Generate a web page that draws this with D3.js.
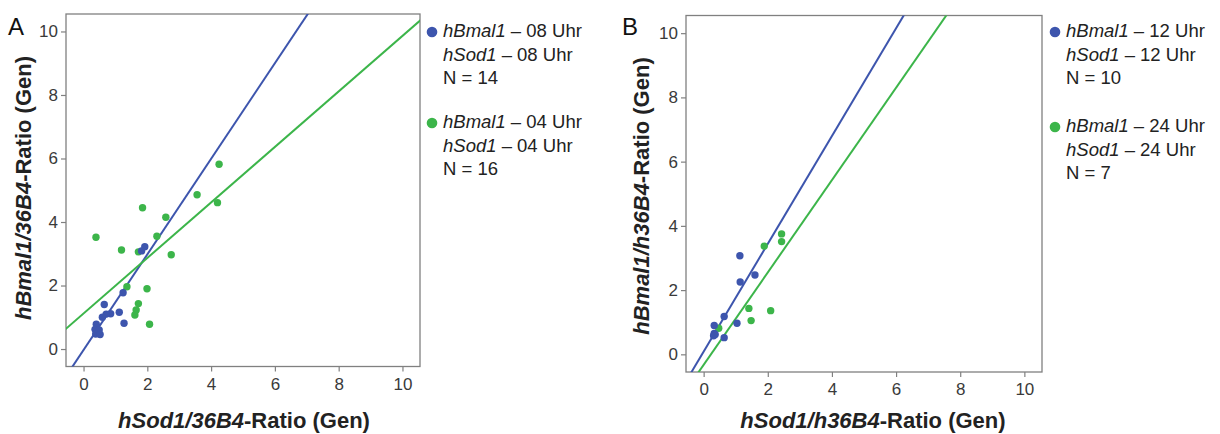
<!DOCTYPE html>
<html>
<head>
<meta charset="utf-8">
<script src="https://cdn.jsdelivr.net/npm/d3@7"></script>
<style>
  body { margin: 0; background: #fff; }
  svg { display: block; font-family: "Liberation Sans", Arial, sans-serif; }
</style>
</head>
<body>
<svg id="chart" width="1220" height="434"></svg>
<script>
// ---------------- data ----------------
const tickValues = [0, 2, 4, 6, 8, 10];

// Panel A
const aBlueX = [1.92, 1.82, 1.24, 0.65, 1.12, 0.85, 0.71, 0.59, 1.27, 0.40, 0.36, 0.49, 0.38, 0.52];
const aBlueY = [3.22, 3.09, 1.77, 1.40, 1.16, 1.11, 1.10, 1.00, 0.81, 0.78, 0.62, 0.60, 0.47, 0.46];
const aGreenX = [4.25, 3.56, 4.20, 1.85, 2.58, 0.39, 2.30, 1.19, 1.72, 2.75, 1.36, 1.99, 1.72, 1.65, 1.61, 2.07];
const aGreenY = [5.82, 4.86, 4.61, 4.45, 4.15, 3.52, 3.55, 3.12, 3.06, 2.97, 1.96, 1.90, 1.43, 1.23, 1.07, 0.78];
const aFitSlope = [1.505, 0.874];       // blue, green
const aFitIntercept = [-0.03, 1.12];

// Panel B
const bBlueX = [1.13, 1.60, 1.14, 0.64, 0.33, 1.04, 0.33, 0.31, 0.64, 0.36];
const bBlueY = [3.07, 2.47, 2.25, 1.18, 0.90, 0.97, 0.65, 0.58, 0.52, 0.62];
const bGreenX = [2.43, 2.43, 1.89, 1.41, 2.09, 1.48, 0.47];
const bGreenY = [3.75, 3.51, 3.37, 1.43, 1.36, 1.05, 0.81];
const bFitSlope = [1.678, 1.438];
const bFitIntercept = [0.084, -0.327];

const legendA = [
  { gene1: "hBmal1", gene2: "hSod1", time: "08 Uhr", n: "N = 14" },
  { gene1: "hBmal1", gene2: "hSod1", time: "04 Uhr", n: "N = 16" }
];
const legendB = [
  { gene1: "hBmal1", gene2: "hSod1", time: "12 Uhr", n: "N = 10" },
  { gene1: "hBmal1", gene2: "hSod1", time: "24 Uhr", n: "N = 7" }
];

// ---------------- styles ----------------
const BLUE = "#3d55ad";
const GREEN = "#3cb54a";
const FRAME = "#808080";
const TEXT = "#222";
const domain = [-0.55, 10.55];

const svg = d3.select("#chart");

function panel(opt) {
  const g = svg.append("g");
  const x = d3.scaleLinear().domain(domain).range([opt.left, opt.right]);
  const y = d3.scaleLinear().domain(domain).range([opt.bottom, opt.top]);

  const clipId = "clip" + opt.letter;
  svg.append("defs").append("clipPath").attr("id", clipId)
    .append("rect").attr("x", opt.left).attr("y", opt.top)
    .attr("width", opt.right - opt.left).attr("height", opt.bottom - opt.top);

  // frame
  g.append("rect").attr("x", opt.left).attr("y", opt.top)
    .attr("width", opt.right - opt.left).attr("height", opt.bottom - opt.top)
    .attr("fill", "none").attr("stroke", FRAME).attr("stroke-width", 1.3);

  // axes
  const ax = g.append("g").attr("transform", `translate(0,${opt.bottom})`)
    .call(d3.axisBottom(x).tickValues(tickValues).tickSize(5).tickPadding(6).tickFormat(d3.format("d")));
  const ay = g.append("g").attr("transform", `translate(${opt.left},0)`)
    .call(d3.axisLeft(y).tickValues(tickValues).tickSize(5).tickPadding(3).tickFormat(d3.format("d")));
  [ax, ay].forEach(a => {
    a.select(".domain").remove();
    a.selectAll(".tick line").attr("stroke", FRAME).attr("stroke-width", 1.2);
    a.selectAll(".tick text").attr("fill", "#3a3a3a").style("font-size", "17px")
      .style("font-family", "'Liberation Sans', Arial, sans-serif");
  });

  // fit lines
  const lg = g.append("g").attr("clip-path", `url(#${clipId})`);
  const colors = [BLUE, GREEN];
  opt.slope.forEach((s, i) => {
    const x0 = domain[0] - 1, x1 = domain[1] + 1;
    lg.append("line")
      .attr("x1", x(x0)).attr("y1", y(s * x0 + opt.intercept[i]))
      .attr("x2", x(x1)).attr("y2", y(s * x1 + opt.intercept[i]))
      .attr("stroke", colors[i]).attr("stroke-width", 2);
  });

  // points
  const drawPts = (xs, ys, c) => {
    lg.selectAll(null).data(xs.map((v, i) => [v, ys[i]])).enter().append("circle")
      .attr("cx", d => x(d[0])).attr("cy", d => y(d[1])).attr("r", 3.7).attr("fill", c);
  };
  drawPts(opt.greenX, opt.greenY, GREEN);
  drawPts(opt.blueX, opt.blueY, BLUE);

  // panel letter
  g.append("text").attr("x", opt.letterX).attr("y", 35).text(opt.letter)
    .attr("fill", "#111").style("font-size", "24px")
    .style("font-family", "'Liberation Sans', Arial, sans-serif");

  // x title
  const xt = g.append("text").attr("x", opt.xTitleX).attr("y", 428)
    .attr("text-anchor", "middle").attr("fill", TEXT)
    .style("font-size", "22px").style("font-weight", "bold");
  xt.append("tspan").style("font-style", "italic").text(opt.xTitleIt);
  xt.append("tspan").text("-Ratio (Gen)");

  // y title
  const yt = g.append("text")
    .attr("transform", `translate(${opt.yTitleX},${opt.yTitleY}) rotate(-90)`)
    .attr("text-anchor", "middle").attr("fill", TEXT)
    .style("font-size", "22px").style("font-weight", "bold");
  yt.append("tspan").style("font-style", "italic").text(opt.yTitleIt);
  yt.append("tspan").text("-Ratio (Gen)");

  // legend
  opt.legend.forEach((L, i) => {
    const y0 = opt.legY[i];
    g.append("circle").attr("cx", opt.legX - 11).attr("cy", y0 - 5).attr("r", 5.3).attr("fill", colors[i]);
    const t1 = g.append("text").attr("x", opt.legX).attr("y", y0).attr("fill", TEXT).style("font-size", "18.5px");
    t1.append("tspan").style("font-style", "italic").text(L.gene1);
    t1.append("tspan").text(" \u2013 " + L.time);
    const t2 = g.append("text").attr("x", opt.legX).attr("y", y0 + 23.5).attr("fill", TEXT).style("font-size", "18.5px");
    t2.append("tspan").style("font-style", "italic").text(L.gene2);
    t2.append("tspan").text(" \u2013 " + L.time);
    g.append("text").attr("x", opt.legX).attr("y", y0 + 46.5).attr("fill", TEXT).style("font-size", "18.5px").text(L.n);
  });
}

panel({
  letter: "A", letterX: 8,
  left: 66, right: 420, top: 14, bottom: 366.5,
  blueX: aBlueX, blueY: aBlueY, greenX: aGreenX, greenY: aGreenY,
  slope: aFitSlope, intercept: aFitIntercept,
  xTitleIt: "hSod1/36B4", yTitleIt: "hBmal1/36B4",
  xTitleX: 244, yTitleX: 31, yTitleY: 188,
  legend: legendA, legX: 443, legY: [37, 128]
});

panel({
  letter: "B", letterX: 622,
  left: 686, right: 1042, top: 15.5, bottom: 372,
  blueX: bBlueX, blueY: bBlueY, greenX: bGreenX, greenY: bGreenY,
  slope: bFitSlope, intercept: bFitIntercept,
  xTitleIt: "hSod1/h36B4", yTitleIt: "hBmal1/h36B4",
  xTitleX: 873, yTitleX: 649, yTitleY: 196,
  legend: legendB, legX: 1066, legY: [37, 132]
});
</script>
</body>
</html>
